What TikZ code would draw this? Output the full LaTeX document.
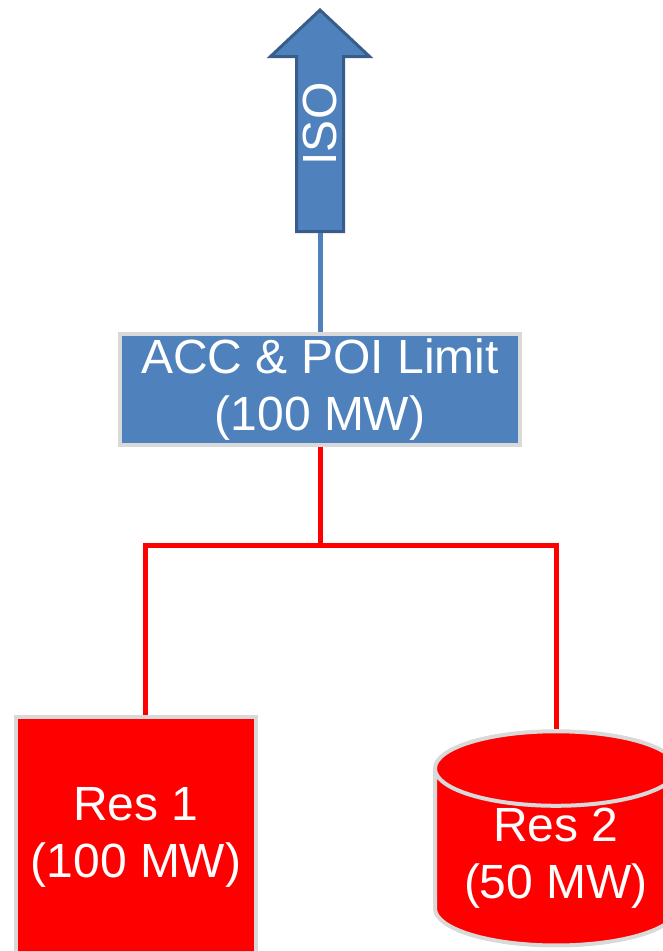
\documentclass[tikz,border=0pt]{standalone}
\usepackage{fontspec}
\setmainfont{Liberation Sans}
\usetikzlibrary{shapes.geometric, positioning, calc, backgrounds}
\definecolor{accblue}{HTML}{4F81BD}
\definecolor{arrowedge}{HTML}{385D8A}
\definecolor{edgegray}{HTML}{D9D9D9}
\definecolor{resred}{HTML}{FF0000}

\begin{document}
\begin{tikzpicture}[
  x=1pt, y=1pt,
  bigtext/.style={text=white, font=\fontsize{48}{57}\selectfont, align=center},
  isolabel/.style={bigtext, rotate=90, inner sep=0pt},
  isobody/.style={fill=accblue, draw=arrowedge, line width=3pt, line join=miter},
  limit/.style={bigtext, rectangle, fill=accblue, draw=edgegray, line width=4pt, minimum width=400pt, minimum height=111pt, inner sep=0pt},
  res/.style={bigtext, fill=resred, draw=edgegray, line width=4pt, inner sep=0pt},
  bluewire/.style={accblue, line width=5pt},
  redwire/.style={resred, line width=5pt, line join=miter},
]
  \useasboundingbox (0,0) rectangle (663,-951);
  \clip (0,0) rectangle (663,-951);

  % ISO arrow on top
  \node[isolabel] (iso) at (320,-124) {ISO};
  \coordinate (isofoot) at ($(iso)+(0,-109)$);
  \begin{scope}[on background layer]
    \draw[isobody] ($(iso)+(0,114)$) -- ($(iso)+(49.5,67.5)$) -- ($(iso)+(23.5,67.5)$)
      -- ($(iso)+(23.5,-107.5)$) -- ($(iso)+(-23.5,-107.5)$) -- ($(iso)+(-23.5,67.5)$)
      -- ($(iso)+(-49.5,67.5)$) -- cycle;
  \end{scope}

  \node[limit] (acc) at (320,-389.5) {ACC \& POI Limit\\(100 MW)};

  % resources
  \node[res, minimum width=240pt, minimum height=240pt] (res1) at (136,-837) {Res 1\\(100 MW)};
  \node[res, cylinder, shape border rotate=90, aspect=0.405, minimum width=242pt, minimum height=188pt] (res2) at (556,-858) {Res 2\\(50 MW)};

  \coordinate (split) at (320,-545);
  \coordinate (tapL) at (145,-545);
  \coordinate (tapR) at (556,-545);

  \begin{scope}[on background layer]
    \draw[bluewire] (isofoot) -- (acc);
    \draw[redwire] (acc) -- (split);
    \draw[redwire] (res1.north -| tapL) -- (tapL) -- (tapR) -- (res2.north);
  \end{scope}
\end{tikzpicture}
\end{document}
